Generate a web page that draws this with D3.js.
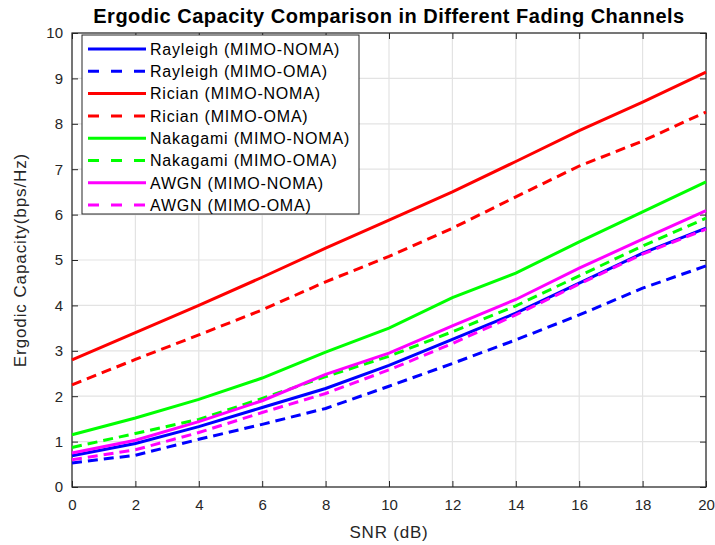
<!DOCTYPE html>
<html>
<head>
<meta charset="utf-8">
<script src="https://cdn.jsdelivr.net/npm/d3@7"></script>
<style>
  body { margin: 0; background: #fff; }
  svg { font-family: "Liberation Sans", Arial, sans-serif; }
</style>
</head>
<body>
<div id="chart"></div>
<script>
const snr = [0, 2, 4, 6, 8, 10, 12, 14, 16, 18, 20];

const rayleighNoma = [0.69, 0.96, 1.33, 1.75, 2.17, 2.68, 3.25, 3.83, 4.49, 5.15, 5.70];
const rayleighOma  = [0.53, 0.70, 1.05, 1.38, 1.73, 2.22, 2.72, 3.24, 3.79, 4.38, 4.87];
const ricianNoma   = [2.80, 3.40, 4.00, 4.62, 5.26, 5.88, 6.50, 7.17, 7.85, 8.48, 9.14];
const ricianOma    = [2.25, 2.81, 3.35, 3.90, 4.52, 5.08, 5.70, 6.39, 7.07, 7.62, 8.26];
const nakagamiNoma = [1.15, 1.52, 1.93, 2.40, 2.97, 3.50, 4.17, 4.71, 5.40, 6.06, 6.72];
const nakagamiOma  = [0.87, 1.18, 1.49, 1.95, 2.43, 2.88, 3.42, 3.99, 4.65, 5.31, 5.92];
const awgnNoma     = [0.75, 1.03, 1.44, 1.90, 2.48, 2.95, 3.55, 4.13, 4.82, 5.46, 6.09];
const awgnOma      = [0.60, 0.82, 1.20, 1.64, 2.06, 2.58, 3.16, 3.79, 4.47, 5.13, 5.68];

const seriesNames = [
  "Rayleigh (MIMO-NOMA)", "Rayleigh (MIMO-OMA)",
  "Rician (MIMO-NOMA)", "Rician (MIMO-OMA)",
  "Nakagami (MIMO-NOMA)", "Nakagami (MIMO-OMA)",
  "AWGN (MIMO-NOMA)", "AWGN (MIMO-OMA)"
];
const seriesValues = [rayleighNoma, rayleighOma, ricianNoma, ricianOma,
  nakagamiNoma, nakagamiOma, awgnNoma, awgnOma];
const seriesColors = ["#0000ff", "#0000ff", "#ff0000", "#ff0000",
  "#00ff00", "#00ff00", "#ff00ff", "#ff00ff"];
const seriesDashed = [false, true, false, true, false, true, false, true];

const xTicks = d3.range(0, 21, 2);
const yTicks = d3.range(0, 11, 1);

const W = 715, H = 545;
const margin = { top: 33, right: 9, bottom: 58, left: 72 };
const width = W - margin.left - margin.right;
const height = H - margin.top - margin.bottom;
const axisColor = "#262626";

const svg = d3.select("#chart").append("svg")
  .attr("width", W).attr("height", H);

const g = svg.append("g")
  .attr("transform", `translate(${margin.left},${margin.top})`);

const x = d3.scaleLinear().domain([0, 20]).range([0, width]);
const y = d3.scaleLinear().domain([0, 10]).range([height, 0]);

// Grid
g.append("g").selectAll("line").data(xTicks).join("line")
  .attr("x1", d => x(d)).attr("x2", d => x(d))
  .attr("y1", 0).attr("y2", height)
  .attr("stroke", "#e3e3e3").attr("stroke-width", 1.2);
g.append("g").selectAll("line").data(yTicks).join("line")
  .attr("y1", d => y(d)).attr("y2", d => y(d))
  .attr("x1", 0).attr("x2", width)
  .attr("stroke", "#e3e3e3").attr("stroke-width", 1.2);

// Axes (MATLAB style, ticks inward on all sides)
const tickLen = 6;
const styleAxis = (sel) => {
  sel.select(".domain").remove();
  sel.selectAll(".tick line").attr("stroke", axisColor).attr("stroke-width", 1);
  sel.selectAll(".tick text").attr("fill", axisColor).attr("font-size", "15px");
};

g.append("g").attr("transform", `translate(0,${height})`)
  .call(d3.axisBottom(x).tickValues(xTicks).tickSize(-tickLen).tickPadding(12))
  .call(styleAxis);
g.append("g")
  .call(d3.axisTop(x).tickValues(xTicks).tickSize(-tickLen).tickFormat(""))
  .call(styleAxis);
g.append("g")
  .call(d3.axisLeft(y).tickValues(yTicks).tickSize(-tickLen).tickPadding(9))
  .call(styleAxis);
g.append("g").attr("transform", `translate(${width},0)`)
  .call(d3.axisRight(y).tickValues(yTicks).tickSize(-tickLen).tickFormat(""))
  .call(styleAxis);

g.append("rect")
  .attr("width", width).attr("height", height)
  .attr("fill", "none").attr("stroke", axisColor).attr("stroke-width", 1.2);

// Lines
const line = d3.line().x((d, i) => x(snr[i])).y(d => y(d));
g.append("g").selectAll("path").data(seriesValues).join("path")
  .attr("d", d => line(d))
  .attr("fill", "none")
  .attr("stroke", (d, i) => seriesColors[i])
  .attr("stroke-width", 3)
  .attr("stroke-dasharray", (d, i) => seriesDashed[i] ? "10,6" : null);

// Legend
const lg = g.append("g").attr("transform", "translate(10,2)");
lg.append("rect")
  .attr("width", 277).attr("height", 179)
  .attr("fill", "#fff").attr("stroke", axisColor).attr("stroke-width", 1);
const rowH = 22.3;
const items = lg.selectAll(".item").data(seriesNames).join("g")
  .attr("class", "item")
  .attr("transform", (d, i) => `translate(0,${14 + i * rowH})`);
items.append("line")
  .attr("x1", 6).attr("x2", 64)
  .attr("stroke", (d, i) => seriesColors[i])
  .attr("stroke-width", 3)
  .attr("stroke-dasharray", (d, i) => seriesDashed[i] ? "11,12" : null);
items.append("text")
  .attr("x", 68).attr("dy", "0.36em")
  .attr("font-size", "16px").attr("letter-spacing", "0.8px").attr("fill", "#000")
  .text(d => d);

// Title and labels
svg.append("text")
  .attr("x", margin.left + width / 2).attr("y", 23)
  .attr("text-anchor", "middle")
  .attr("font-size", "20px").attr("font-weight", "bold").attr("letter-spacing", "0.5px")
  .attr("fill", "#000")
  .text("Ergodic Capacity Comparison in Different Fading Channels");

svg.append("text")
  .attr("x", margin.left + width / 2).attr("y", 538)
  .attr("text-anchor", "middle")
  .attr("font-size", "17px").attr("letter-spacing", "0.8px").attr("fill", axisColor)
  .text("SNR (dB)");

svg.append("text")
  .attr("transform", `translate(26,${margin.top + height / 2}) rotate(-90)`)
  .attr("text-anchor", "middle")
  .attr("font-size", "17px").attr("letter-spacing", "0.9px").attr("fill", axisColor)
  .text("Ergodic Capacity(bps/Hz)");
</script>
</body>
</html>
